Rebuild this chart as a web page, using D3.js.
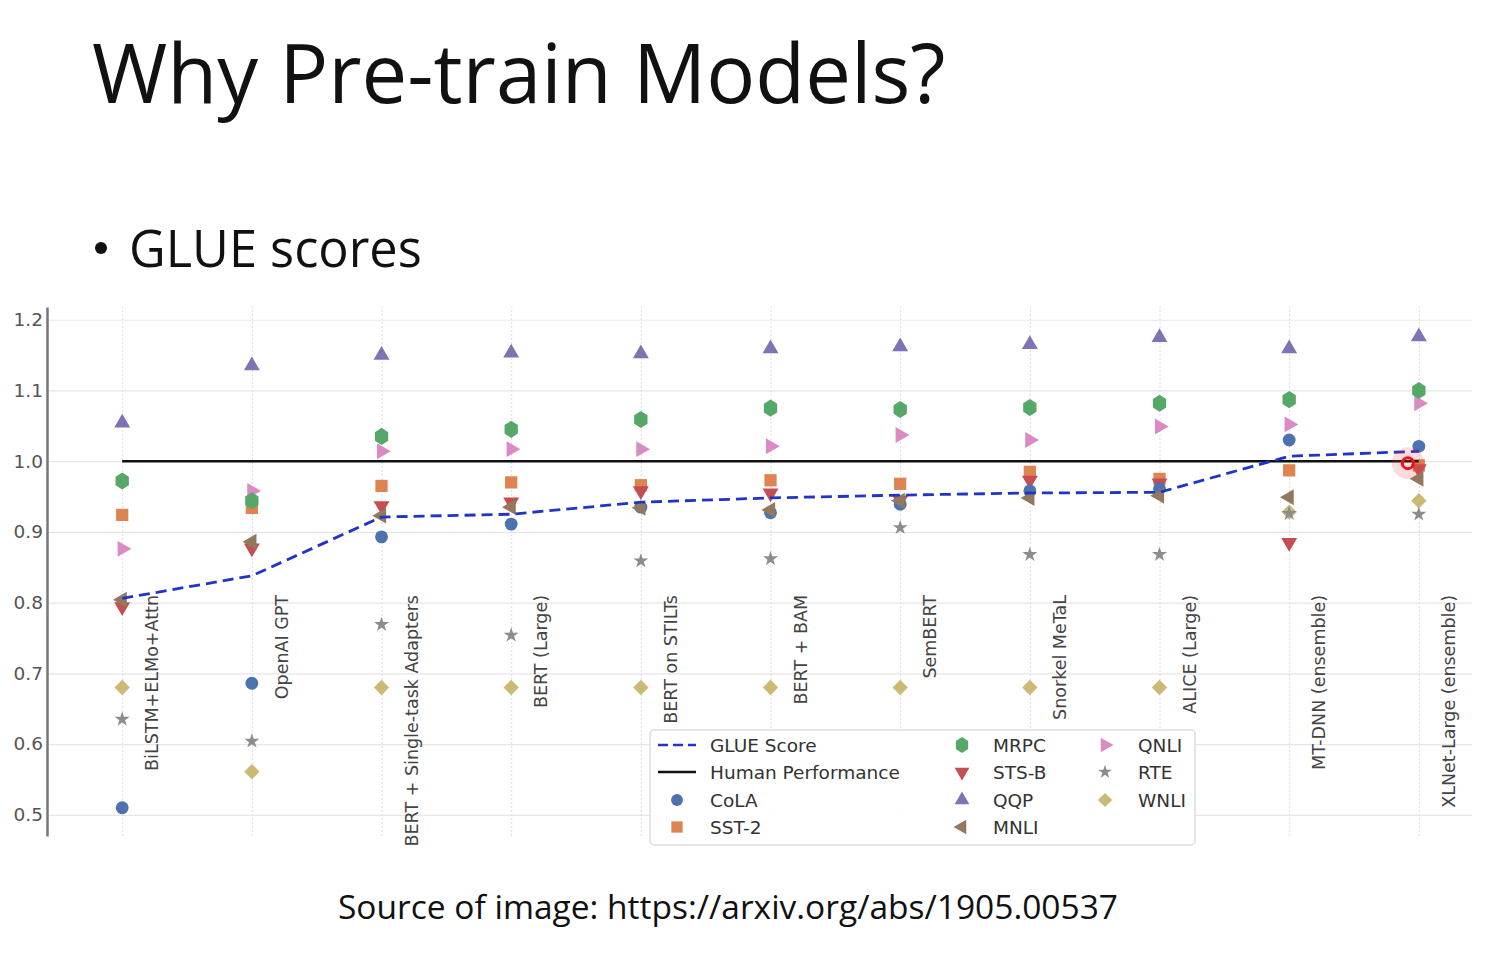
<!DOCTYPE html>
<html>
<head>
<meta charset="utf-8">
<script src="https://cdn.jsdelivr.net/npm/d3@7"></script>
<style>
  body { margin: 0; background: #fff; }
  svg text { font-family: "DejaVu Sans", sans-serif; }
</style>
</head>
<body>
<div id="slide"></div>
<script>
// models along the x axis
var models = ["BiLSTM+ELMo+Attn", "OpenAI GPT", "BERT + Single-task Adapters", "BERT (Large)",
  "BERT on STILTs", "BERT + BAM", "SemBERT", "Snorkel MeTaL", "ALICE (Large)",
  "MT-DNN (ensemble)", "XLNet-Large (ensemble)"];

// scores relative to human performance
var glue  = [0.806, 0.838, 0.921, 0.925, 0.942, 0.948, 0.952, 0.955, 0.956, 1.007, 1.014];
var human = [1.0, 1.0];
var cola  = [0.510, 0.686, 0.893, 0.911, 0.935, 0.927, 0.939, 0.958, 0.961, 1.030, 1.021];
var sst2  = [0.924, 0.934, 0.965, 0.970, 0.966, 0.973, 0.968, 0.985, 0.975, 0.987, 0.994];
var mrpc  = [0.972, 0.944, 1.035, 1.045, 1.059, 1.075, 1.073, 1.076, 1.082, 1.087, 1.100];
var stsb  = [0.794, 0.877, 0.937, 0.942, 0.958, 0.955, 0.945, 0.973, 0.969, 0.885, 0.989];
var qqp   = [1.054, 1.135, 1.150, 1.153, 1.152, 1.159, 1.162, 1.165, 1.175, 1.159, 1.176];
var mnli  = [0.804, 0.886, 0.923, 0.935, 0.934, 0.931, 0.944, 0.948, 0.951, 0.949, 0.975];
var qnli  = [0.876, 0.958, 1.014, 1.017, 1.017, 1.021, 1.037, 1.030, 1.049, 1.052, 1.082];
var rte   = [0.635, 0.604, 0.769, 0.754, 0.859, 0.862, 0.906, 0.868, 0.868, 0.926, 0.925];
var wnli  = [0.680, 0.561, 0.680, 0.680, 0.680, 0.680, 0.680, 0.680, 0.680, 0.928, 0.944];

var yTicks = [0.5, 0.6, 0.7, 0.8, 0.9, 1.0, 1.1, 1.2];

var svgWidth = 1492;
var svgHeight = 962;

var svg = d3.select("#slide")
  .append("svg")
  .attr("width", svgWidth)
  .attr("height", svgHeight);

// slide text
svg.append("text")
  .attr("x", 92)
  .attr("y", 103)
  .style("font-family", "'Open Sans', sans-serif")
  .style("font-size", "81.5px")
  .attr("fill", "#111")
  .text("Why Pre-train Models?");

svg.append("circle")
  .attr("cx", 101)
  .attr("cy", 248)
  .attr("r", 6)
  .attr("fill", "#111");

svg.append("text")
  .attr("x", 129)
  .attr("y", 267)
  .style("font-family", "'Open Sans', sans-serif")
  .style("font-size", "50.5px")
  .attr("fill", "#111")
  .text("GLUE scores");

svg.append("text")
  .attr("x", 728)
  .attr("y", 919)
  .attr("text-anchor", "middle")
  .style("font-family", "'Open Sans', sans-serif")
  .style("font-size", "33.5px")
  .attr("fill", "#111")
  .text("Source of image: https://arxiv.org/abs/1905.00537");

// scales
var xScale = d3.scaleLinear()
  .domain([-0.58, 10.41])
  .range([47, 1472]);

var yScale = d3.scaleLinear()
  .domain([0.47, 1.218])
  .range([836, 307]);

var chartGroup = svg.append("g");

// horizontal grid
chartGroup.append("g")
  .attr("transform", "translate(47,0)")
  .call(d3.axisLeft(yScale).tickValues(yTicks).tickSize(-(1472 - 47)).tickFormat(""))
  .call(g => g.select(".domain").remove())
  .selectAll("line")
  .attr("stroke", "#e6e6e6")
  .attr("stroke-width", 1.2);

// vertical grid
chartGroup.append("g")
  .attr("transform", "translate(0,836)")
  .call(d3.axisBottom(xScale).tickValues(d3.range(models.length)).tickSize(-(836 - 307)).tickFormat(""))
  .call(g => g.select(".domain").remove())
  .selectAll("line")
  .attr("stroke", "#dcdcdc")
  .attr("stroke-dasharray", "2,2");

// y axis
var leftAxis = chartGroup.append("g")
  .attr("transform", "translate(47,0)")
  .call(d3.axisLeft(yScale).tickValues(yTicks).tickSize(0).tickPadding(4).tickFormat(d3.format(".1f")));
leftAxis.select(".domain")
  .attr("stroke", "#777")
  .attr("stroke-width", 2.5);
leftAxis.selectAll("text")
  .style("font-family", "'DejaVu Sans', sans-serif")
  .style("font-size", "18.5px")
  .attr("fill", "#555");

// model labels, rotated inside the plot
chartGroup.append("g").selectAll("text")
  .data(models)
  .enter()
  .append("text")
  .attr("transform", (d, i) => `translate(${xScale(i) + 31}, 595) rotate(-90)`)
  .attr("text-anchor", "end")
  .attr("dominant-baseline", "middle")
  .style("font-size", "17.5px")
  .attr("fill", "#444")
  .text(d => d);

// marker shapes
var hexagon = {
  draw: function(context, size) {
    var r = Math.sqrt(size / 2.6);
    for (var k = 0; k < 6; k++) {
      var a = Math.PI / 2 + k * Math.PI / 3;
      var px = r * Math.cos(a) * 0.9, py = -r * Math.sin(a);
      if (k === 0) context.moveTo(px, py); else context.lineTo(px, py);
    }
    context.closePath();
  }
};

var tasks = [
  {name: "CoLA",  values: cola, color: "#4C72B0", type: d3.symbolCircle,   size: 130, rot: 0},
  {name: "SST-2", values: sst2, color: "#DD8452", type: d3.symbolSquare,   size: 150, rot: 0},
  {name: "MRPC",  values: mrpc, color: "#55A868", type: hexagon,           size: 190, rot: 0},
  {name: "STS-B", values: stsb, color: "#C44E52", type: d3.symbolTriangle, size: 110, rot: 180},
  {name: "QQP",   values: qqp,  color: "#8172B3", type: d3.symbolTriangle, size: 110, rot: 0},
  {name: "MNLI",  values: mnli, color: "#937860", type: d3.symbolTriangle, size: 110, rot: -90},
  {name: "QNLI",  values: qnli, color: "#DA8BC3", type: d3.symbolTriangle, size: 110, rot: 90},
  {name: "RTE",   values: rte,  color: "#8C8C8C", type: d3.symbolStar,     size: 70,  rot: 0},
  {name: "WNLI",  values: wnli, color: "#CCB974", type: d3.symbolDiamond2, size: 150, rot: 0}
];

// draw in an order that mimics the stacking of the picture
var drawOrder = ["WNLI", "RTE", "QNLI", "QQP", "SST-2", "STS-B", "MRPC", "CoLA", "MNLI"];

drawOrder.forEach(function(name) {
  var t = tasks.find(d => d.name === name);
  chartGroup.append("g").selectAll("path")
    .data(t.values)
    .enter()
    .append("path")
    .attr("d", d3.symbol().type(t.type).size(t.size))
    .attr("transform", (d, i) => `translate(${xScale(i)}, ${yScale(d)}) rotate(${t.rot})`)
    .attr("fill", t.color);
});

// human performance line
chartGroup.append("line")
  .attr("x1", xScale(0))
  .attr("x2", xScale(models.length - 1))
  .attr("y1", yScale(human[0]))
  .attr("y2", yScale(human[1]))
  .attr("stroke", "#111")
  .attr("stroke-width", 2.5);

// GLUE score line
var line = d3.line()
  .x((d, i) => xScale(i))
  .y(d => yScale(d));

chartGroup.append("path")
  .datum(glue)
  .attr("d", line)
  .attr("fill", "none")
  .attr("stroke", "#2233c8")
  .attr("stroke-width", 2.8)
  .attr("stroke-dasharray", "11,6");

// pointer highlight from the recording
var pointer = chartGroup.append("g")
  .attr("transform", `translate(${xScale(10) - 11}, ${yScale(1.0) + 2})`);
pointer.append("circle").attr("r", 16).attr("fill", "#ff3b3b").attr("opacity", 0.18);
pointer.append("circle").attr("r", 5.5).attr("fill", "none").attr("stroke", "#e8141a").attr("stroke-width", 3);

// legend
var legend = svg.append("g").attr("transform", "translate(650, 730)");
legend.append("rect")
  .attr("width", 545)
  .attr("height", 115)
  .attr("rx", 4)
  .attr("fill", "#fff")
  .attr("fill-opacity", 0.9)
  .attr("stroke", "#dddddd")
  .attr("stroke-width", 1.5);

var rowY = [15, 42, 70, 97];

var lineItems = [
  {name: "GLUE Score", stroke: "#2233c8", dash: "10,5"},
  {name: "Human Performance", stroke: "#111", dash: null}
];

lineItems.forEach(function(item, k) {
  legend.append("line")
    .attr("x1", 8).attr("x2", 46)
    .attr("y1", rowY[k]).attr("y2", rowY[k])
    .attr("stroke", item.stroke)
    .attr("stroke-width", 2.5)
    .attr("stroke-dasharray", item.dash);
  legend.append("text")
    .attr("x", 60).attr("y", rowY[k])
    .attr("dominant-baseline", "central")
    .style("font-size", "18.5px")
    .attr("fill", "#333")
    .text(item.name);
});

var markerSlots = [
  {col: 0, row: 2}, {col: 0, row: 3},
  {col: 1, row: 0}, {col: 1, row: 1}, {col: 1, row: 2}, {col: 1, row: 3},
  {col: 2, row: 0}, {col: 2, row: 1}, {col: 2, row: 2}
];
var colHandleX = [27, 312, 455];
var colTextX = [60, 343, 488];

tasks.forEach(function(t, k) {
  var slot = markerSlots[k];
  legend.append("path")
    .attr("d", d3.symbol().type(t.type).size(t.size * 0.85))
    .attr("transform", `translate(${colHandleX[slot.col]}, ${rowY[slot.row]}) rotate(${t.rot})`)
    .attr("fill", t.color);
  legend.append("text")
    .attr("x", colTextX[slot.col]).attr("y", rowY[slot.row])
    .attr("dominant-baseline", "central")
    .style("font-size", "18.5px")
    .attr("fill", "#333")
    .text(t.name);
});
</script>
</body>
</html>
